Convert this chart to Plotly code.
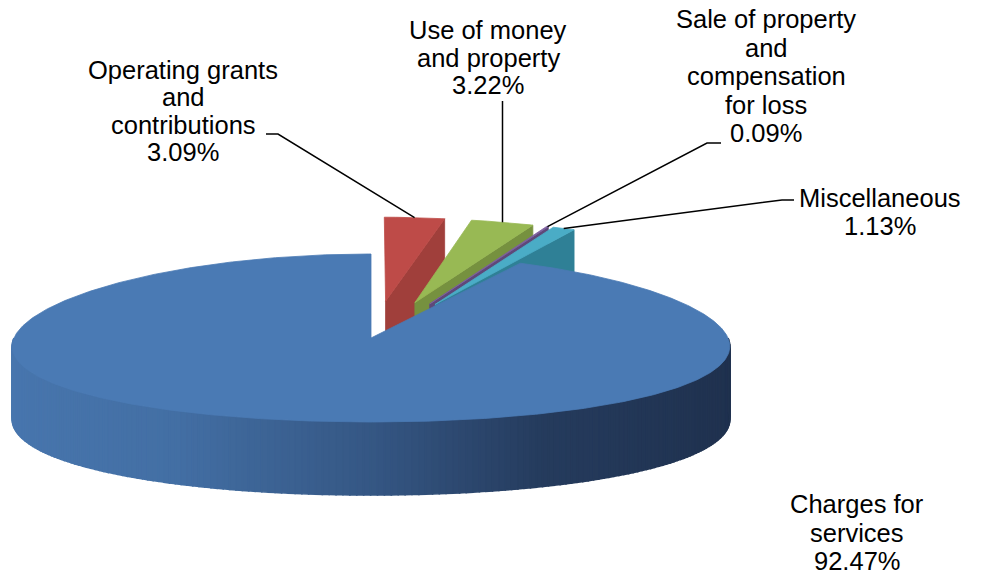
import math
import numpy as np
import plotly.graph_objects as go

# ---------------- data (clockwise from 12 o'clock) ----------------
categories = ["Operating grants and contributions",
              "Use of money and property",
              "Sale of property and compensation for loss",
              "Miscellaneous",
              "Charges for services"]
values = [3.09, 3.22, 0.09, 1.13, 92.47]
label_names = [["Operating grants", "and", "contributions"],
               ["Use of money", "and property"],
               ["Sale of property", "and", "compensation", "for loss"],
               ["Miscellaneous"],
               ["Charges for", "services"]]

# ---------------- style ----------------
TOP_COLORS = ["#BE4B48", "#98B954", "#7D60A0", "#4AACC6", "#4A7AB4"]
SIDE_COLORS = ["#A03F3B", "#76913F", "#5E4879", "#2F8096", "#3A6496"]
PULL = [0.44, 0.44, 0.44, 0.44, 0.0]
CX, CY, RX, RY, DEPTH, PERSP = 371.0, 338.0, 357.0, 84.0, 73.0, 0.1
FONT = dict(family="Liberation Sans, Arial, sans-serif", size=25.5, color="black")
# (center x, first baseline y, line spacing) per label
LABEL_POS = [(183, 78.5, 27.5), (488, 39, 27.5), (766, 28, 28.5), (880, 207, 28), (857, 513, 28.5)]
# leader elbow points (label side); None x means "vertical above the end point"
LEADER_START = [[(266, 134), (278, 134)], [(None, 101)], [(721, 143), (707, 143)],
                [(794, 200), (782, 200)], None]
WALL_STOPS = [(0.0, (72, 118, 174)), (0.25, (67, 111, 164)), (0.5, (53, 87, 132)),
              (0.72, (37, 59, 93)), (1.0, (31, 49, 78))]


def proj(x, y, z=0.0):
    s = 1.0 / (1.0 + PERSP * y)
    return CX + RX * x * s, CY - RY * y + DEPTH * z


def wall_color(c):
    t = (c + 1) / 2
    for (t0, c0), (t1, c1) in zip(WALL_STOPS[:-1], WALL_STOPS[1:]):
        if t0 <= t <= t1:
            f = (t - t0) / (t1 - t0)
            rgb = [round(a + (b - a) * f) for a, b in zip(c0, c1)]
            return "rgb(%d,%d,%d)" % tuple(rgb)
    return "rgb(%d,%d,%d)" % WALL_STOPS[-1][1]


fig = go.Figure()


def add_poly(pts, color, lw=0.8):
    xs = [p[0] for p in pts] + [pts[0][0]]
    ys = [p[1] for p in pts] + [pts[0][1]]
    fig.add_trace(go.Scatter(x=xs, y=ys, mode="lines", fill="toself", fillcolor=color,
                             line=dict(color=color, width=lw), hoverinfo="skip",
                             showlegend=False))


total = sum(values)
slices = []
ang = 90.0
for i, v in enumerate(values):
    sweep = v / total * 360.0
    th2 = ang
    th1 = ang - sweep
    ang = th1
    mid = math.radians((th1 + th2) / 2)
    ox, oy = PULL[i] * math.cos(mid), PULL[i] * math.sin(mid)
    slices.append(dict(th1=th1, th2=th2, ox=ox, oy=oy, mid=mid))


def draw_slice(i):
    s = slices[i]
    th1, th2, ox, oy = s["th1"], s["th2"], s["ox"], s["oy"]
    sweep = th2 - th1
    # outer wall (front half only), shaded in thin strips
    n = max(2, int(math.ceil(sweep / 1.0)))
    phis = np.radians(np.linspace(th1, th2, n + 1))
    for a, b in zip(phis[:-1], phis[1:]):
        m = (a + b) / 2
        if math.sin(m) < 0:
            arc = np.linspace(a, b, 3)
            top = [proj(ox + math.cos(p), oy + math.sin(p), 0) for p in arc]
            bot = [proj(ox + math.cos(p), oy + math.sin(p), 1) for p in arc[::-1]]
            col = wall_color(math.cos(m)) if PULL[i] == 0 else SIDE_COLORS[i]
            add_poly(top + bot, col, lw=1.6)
    # radial faces
    for th, vis in ((th1, math.cos(math.radians(th1)) > 1e-6),
                    (th2, math.cos(math.radians(th2)) < -1e-6)):
        if vis:
            r = math.radians(th)
            rx, ry = ox + math.cos(r), oy + math.sin(r)
            add_poly([proj(ox, oy, 0), proj(rx, ry, 0), proj(rx, ry, 1), proj(ox, oy, 1)],
                     SIDE_COLORS[i])
    # top face
    m = max(8, int(sweep * 2))
    arc = np.radians(np.linspace(th1, th2, m + 1))
    pts = [proj(ox, oy, 0)] + [proj(ox + math.cos(p), oy + math.sin(p), 0) for p in arc]
    add_poly(pts, TOP_COLORS[i])


# back (exploded) slices first, then the big front slice
order = [i for i in range(len(values)) if PULL[i] > 0] + [i for i in range(len(values)) if PULL[i] == 0]
for i in order:
    draw_slice(i)

# leader lines
for i, start in enumerate(LEADER_START):
    if start is None:
        continue
    s = slices[i]
    ex, ey = proj(s["ox"] + math.cos(s["mid"]), s["oy"] + math.sin(s["mid"]), 0)
    pts = [(ex if px is None else px, py) for px, py in start] + [(ex, ey)]
    fig.add_trace(go.Scatter(x=[p[0] for p in pts], y=[p[1] for p in pts], mode="lines",
                             line=dict(color="black", width=1.5), hoverinfo="skip",
                             showlegend=False))

# labels
annotations = []
for i, v in enumerate(values):
    lines = label_names[i] + ["%.2f%%" % v]
    cx, by, sp = LABEL_POS[i]
    for k, txt in enumerate(lines):
        annotations.append(dict(x=cx, y=by + k * sp - 0.35 * FONT["size"], text=txt,
                                showarrow=False, xanchor="center", yanchor="middle",
                                font=FONT, xref="x", yref="y"))

fig.update_layout(
    width=987, height=576,
    margin=dict(l=0, r=0, t=0, b=0),
    paper_bgcolor="white", plot_bgcolor="white",
    xaxis=dict(range=[0, 987], visible=False, fixedrange=True),
    yaxis=dict(range=[576, 0], visible=False, fixedrange=True),
    annotations=annotations,
    showlegend=False,
)

fig.write_html("out.html")
